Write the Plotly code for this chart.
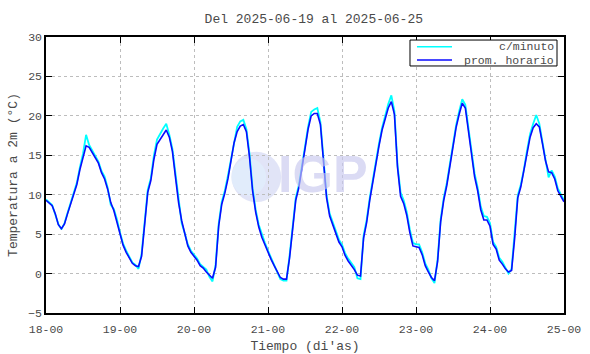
import plotly.graph_objects as go
import pandas as pd

# ---------------- data ----------------
start_time = "2025-06-18 00:00"
hourly_temp = [
    # 18
    9.3, 9.0, 8.6, 7.6, 6.2, 5.7, 6.3, 7.6, 8.9, 10.2, 11.3, 13.2,
    14.8, 16.2, 16.0, 15.3, 14.6, 14.0, 12.8, 12.0, 10.7, 9.0, 8.0, 6.6,
    # 19
    5.0, 3.6, 2.7, 2.0, 1.3, 1.0, 0.9, 2.2, 6.5, 10.3, 11.8, 14.5,
    16.4, 17.0, 17.6, 18.2, 17.3, 15.5, 12.2, 9.0, 6.7, 4.9, 3.5, 2.7,
    # 20
    2.2, 1.7, 1.0, 0.7, 0.2, -0.2, -0.6, 0.8, 6.0, 8.8, 10.2, 12.0,
    14.1, 16.6, 18.0, 18.7, 18.9, 18.0, 14.8, 10.5, 7.8, 5.9, 4.6, 3.6,
    # 21
    2.6, 1.8, 1.0, 0.2, -0.5, -0.7, -0.7, 2.0, 6.0, 9.3, 10.9, 13.1,
    15.8, 18.3, 20.0, 20.3, 20.3, 18.9, 14.0, 9.6, 7.3, 6.2, 5.1, 4.0,
    # 22
    3.4, 2.3, 1.6, 1.1, 0.5, -0.2, -0.3, 4.5, 6.5, 9.3, 11.7, 13.9,
    16.2, 18.2, 19.7, 21.0, 21.8, 20.2, 13.5, 9.8, 8.9, 7.4, 5.2, 3.5,
    # 23
    3.4, 3.3, 2.4, 1.0, 0.2, -0.5, -0.9, 1.5, 6.6, 9.3, 11.2, 13.6,
    15.9, 18.5, 20.2, 21.6, 21.0, 18.2, 15.2, 12.3, 10.5, 8.1, 6.8, 6.8,
    # 24
    6.0, 3.7, 3.1, 1.7, 1.2, 0.6, 0.2, 0.4, 4.5, 9.6, 11.0, 12.9,
    15.2, 17.3, 18.5, 19.0, 18.6, 16.5, 14.3, 12.9, 12.8, 12.0, 10.5, 9.8,
    # 25-00
    9.1,
]
minute_temp = [
    # 18
    9.4, 9.0, 8.7, 7.5, 6.3, 5.6, 6.4, 7.7, 9.0, 10.4, 11.5, 13.5,
    15.2, 17.6, 16.3, 15.6, 14.9, 14.2, 13.0, 12.3, 10.9, 8.7, 8.2, 6.9,
    # 19
    5.2, 3.8, 2.9, 2.2, 1.4, 1.1, 0.6, 2.5, 7.0, 10.6, 12.1, 15.0,
    17.0, 17.8, 18.4, 19.0, 17.6, 15.8, 12.5, 9.3, 6.4, 5.1, 3.7, 2.9,
    # 20
    2.4, 1.9, 1.2, 0.9, 0.5, -0.4, -1.0, 1.1, 6.3, 9.1, 10.5, 12.4,
    14.5, 17.0, 18.6, 19.3, 19.5, 18.3, 15.2, 10.8, 8.1, 6.2, 4.9, 3.9,
    # 21
    2.9, 2.0, 1.2, 0.4, -0.7, -0.9, -0.9, 2.3, 6.4, 9.6, 11.2, 13.4,
    16.1, 18.6, 20.5, 20.8, 21.0, 19.2, 14.4, 9.9, 7.6, 6.5, 5.4, 4.3,
    # 22
    3.7, 2.6, 1.9, 1.4, 0.8, -0.6, -0.7, 4.8, 6.8, 9.6, 12.0, 14.2,
    16.5, 18.5, 20.0, 21.5, 22.6, 20.6, 13.8, 10.3, 9.3, 7.8, 5.6, 3.9,
    # 23
    3.7, 3.7, 2.7, 1.3, 0.5, -0.6, -1.2, 1.8, 6.9, 9.6, 11.5, 13.9,
    16.2, 18.8, 20.6, 22.1, 21.4, 18.5, 15.6, 12.7, 10.9, 8.5, 7.3, 7.2,
    # 24
    6.4, 4.0, 3.4, 2.0, 1.5, 0.8, 0.0, 0.6, 4.8, 9.9, 11.3, 13.2,
    15.6, 17.7, 19.0, 20.1, 19.0, 16.8, 14.6, 12.2, 13.1, 12.3, 10.8, 10.1,
    # 25-00
    9.3,
]
series_names = ["c/minuto", "prom. horario"]
series_colors = ["#00ffff", "#0a0aff"]
x_tick_labels = ["18-00", "19-00", "20-00", "21-00", "22-00", "23-00", "24-00", "25-00"]
y_ticks = [-5, 0, 5, 10, 15, 20, 25, 30]

times = pd.date_range(start_time, periods=len(hourly_temp), freq="h")
day_ticks = pd.date_range("2025-06-18", periods=len(x_tick_labels), freq="D")

FONT = "Liberation Mono"
TXT = "#4a4a4a"

fig = go.Figure()
fig.add_trace(go.Scatter(
    x=times, y=minute_temp, mode="lines", name=series_names[0],
    line=dict(color=series_colors[0], width=1.8), showlegend=False,
))
fig.add_trace(go.Scatter(
    x=times, y=hourly_temp, mode="lines", name=series_names[1],
    line=dict(color=series_colors[1], width=1.6), showlegend=False,
))

# watermark (IGP logo)
fig.add_shape(type="circle", xref="x domain", yref="y domain",
              x0=0.406 - 0.048, x1=0.406 + 0.048, y0=0.493 - 0.091, y1=0.493 + 0.091,
              fillcolor="rgba(200,205,240,0.55)", line=dict(width=0), layer="below")
fig.add_shape(type="circle", xref="x domain", yref="y domain",
              x0=0.358, x1=0.425, y0=0.425, y1=0.56,
              fillcolor="rgba(225,240,252,0.7)", line=dict(width=0), layer="below")
fig.add_annotation(text="<b>IGP</b>", xref="x domain", yref="y domain",
                   x=0.535, y=0.505, showarrow=False,
                   font=dict(family="Liberation Sans", size=52, color="rgba(200,200,238,0.65)"))

# legend box drawn by hand (gnuplot style: sample on left, text right-aligned)
fig.add_shape(type="rect", xref="x domain", yref="y domain",
              x0=0.7027, x1=0.9865, y0=0.8950, y1=0.989,
              fillcolor="white", line=dict(color="black", width=1), layer="above")
legend_rows_y = [0.9645, 0.9165]
for name, color, ly in zip(series_names, series_colors, legend_rows_y):
    fig.add_shape(type="line", xref="x domain", yref="y domain",
                  x0=0.7162, x1=0.7838, y0=ly, y1=ly,
                  line=dict(color=color, width=1.5), layer="above")
    fig.add_annotation(text=name, xref="x domain", yref="y domain",
                       x=0.9826, y=ly, xanchor="right", yanchor="middle",
                       showarrow=False, borderpad=0,
                       font=dict(family=FONT, size=11.5, color=TXT))

axis_common = dict(
    showline=True, linecolor="black", linewidth=1.5, mirror="ticks",
    ticks="inside", ticklen=6, tickcolor="black", tickwidth=1,
    showgrid=True, gridcolor="#bdbdbd", griddash="dot", gridwidth=1,
    zeroline=False, automargin=False,
    tickfont=dict(family=FONT, size=11.5, color=TXT),
)

fig.update_layout(
    width=590, height=354,
    margin=dict(l=46, r=26, t=37, b=41),
    paper_bgcolor="white", plot_bgcolor="white",
    title=dict(text="Del 2025-06-19 al 2025-06-25", x=0.517, xanchor="center",
               xref="paper", y=0.948, yanchor="middle",
               font=dict(family=FONT, size=13, color=TXT)),
    xaxis=dict(axis_common, range=[day_ticks[0], day_ticks[-1]],
               tickvals=day_ticks, ticktext=x_tick_labels, ticklabelstandoff=4,
               title=dict(text="Tiempo (di'as)", font=dict(family=FONT, size=13, color=TXT), standoff=6)),
    yaxis=dict(axis_common, range=[-5, 30], tickvals=y_ticks,
               title=dict(text="Temperatura a 2m (°C)", font=dict(family=FONT, size=13, color=TXT), standoff=8)),
    showlegend=False,
)

fig.write_html("out.html")
